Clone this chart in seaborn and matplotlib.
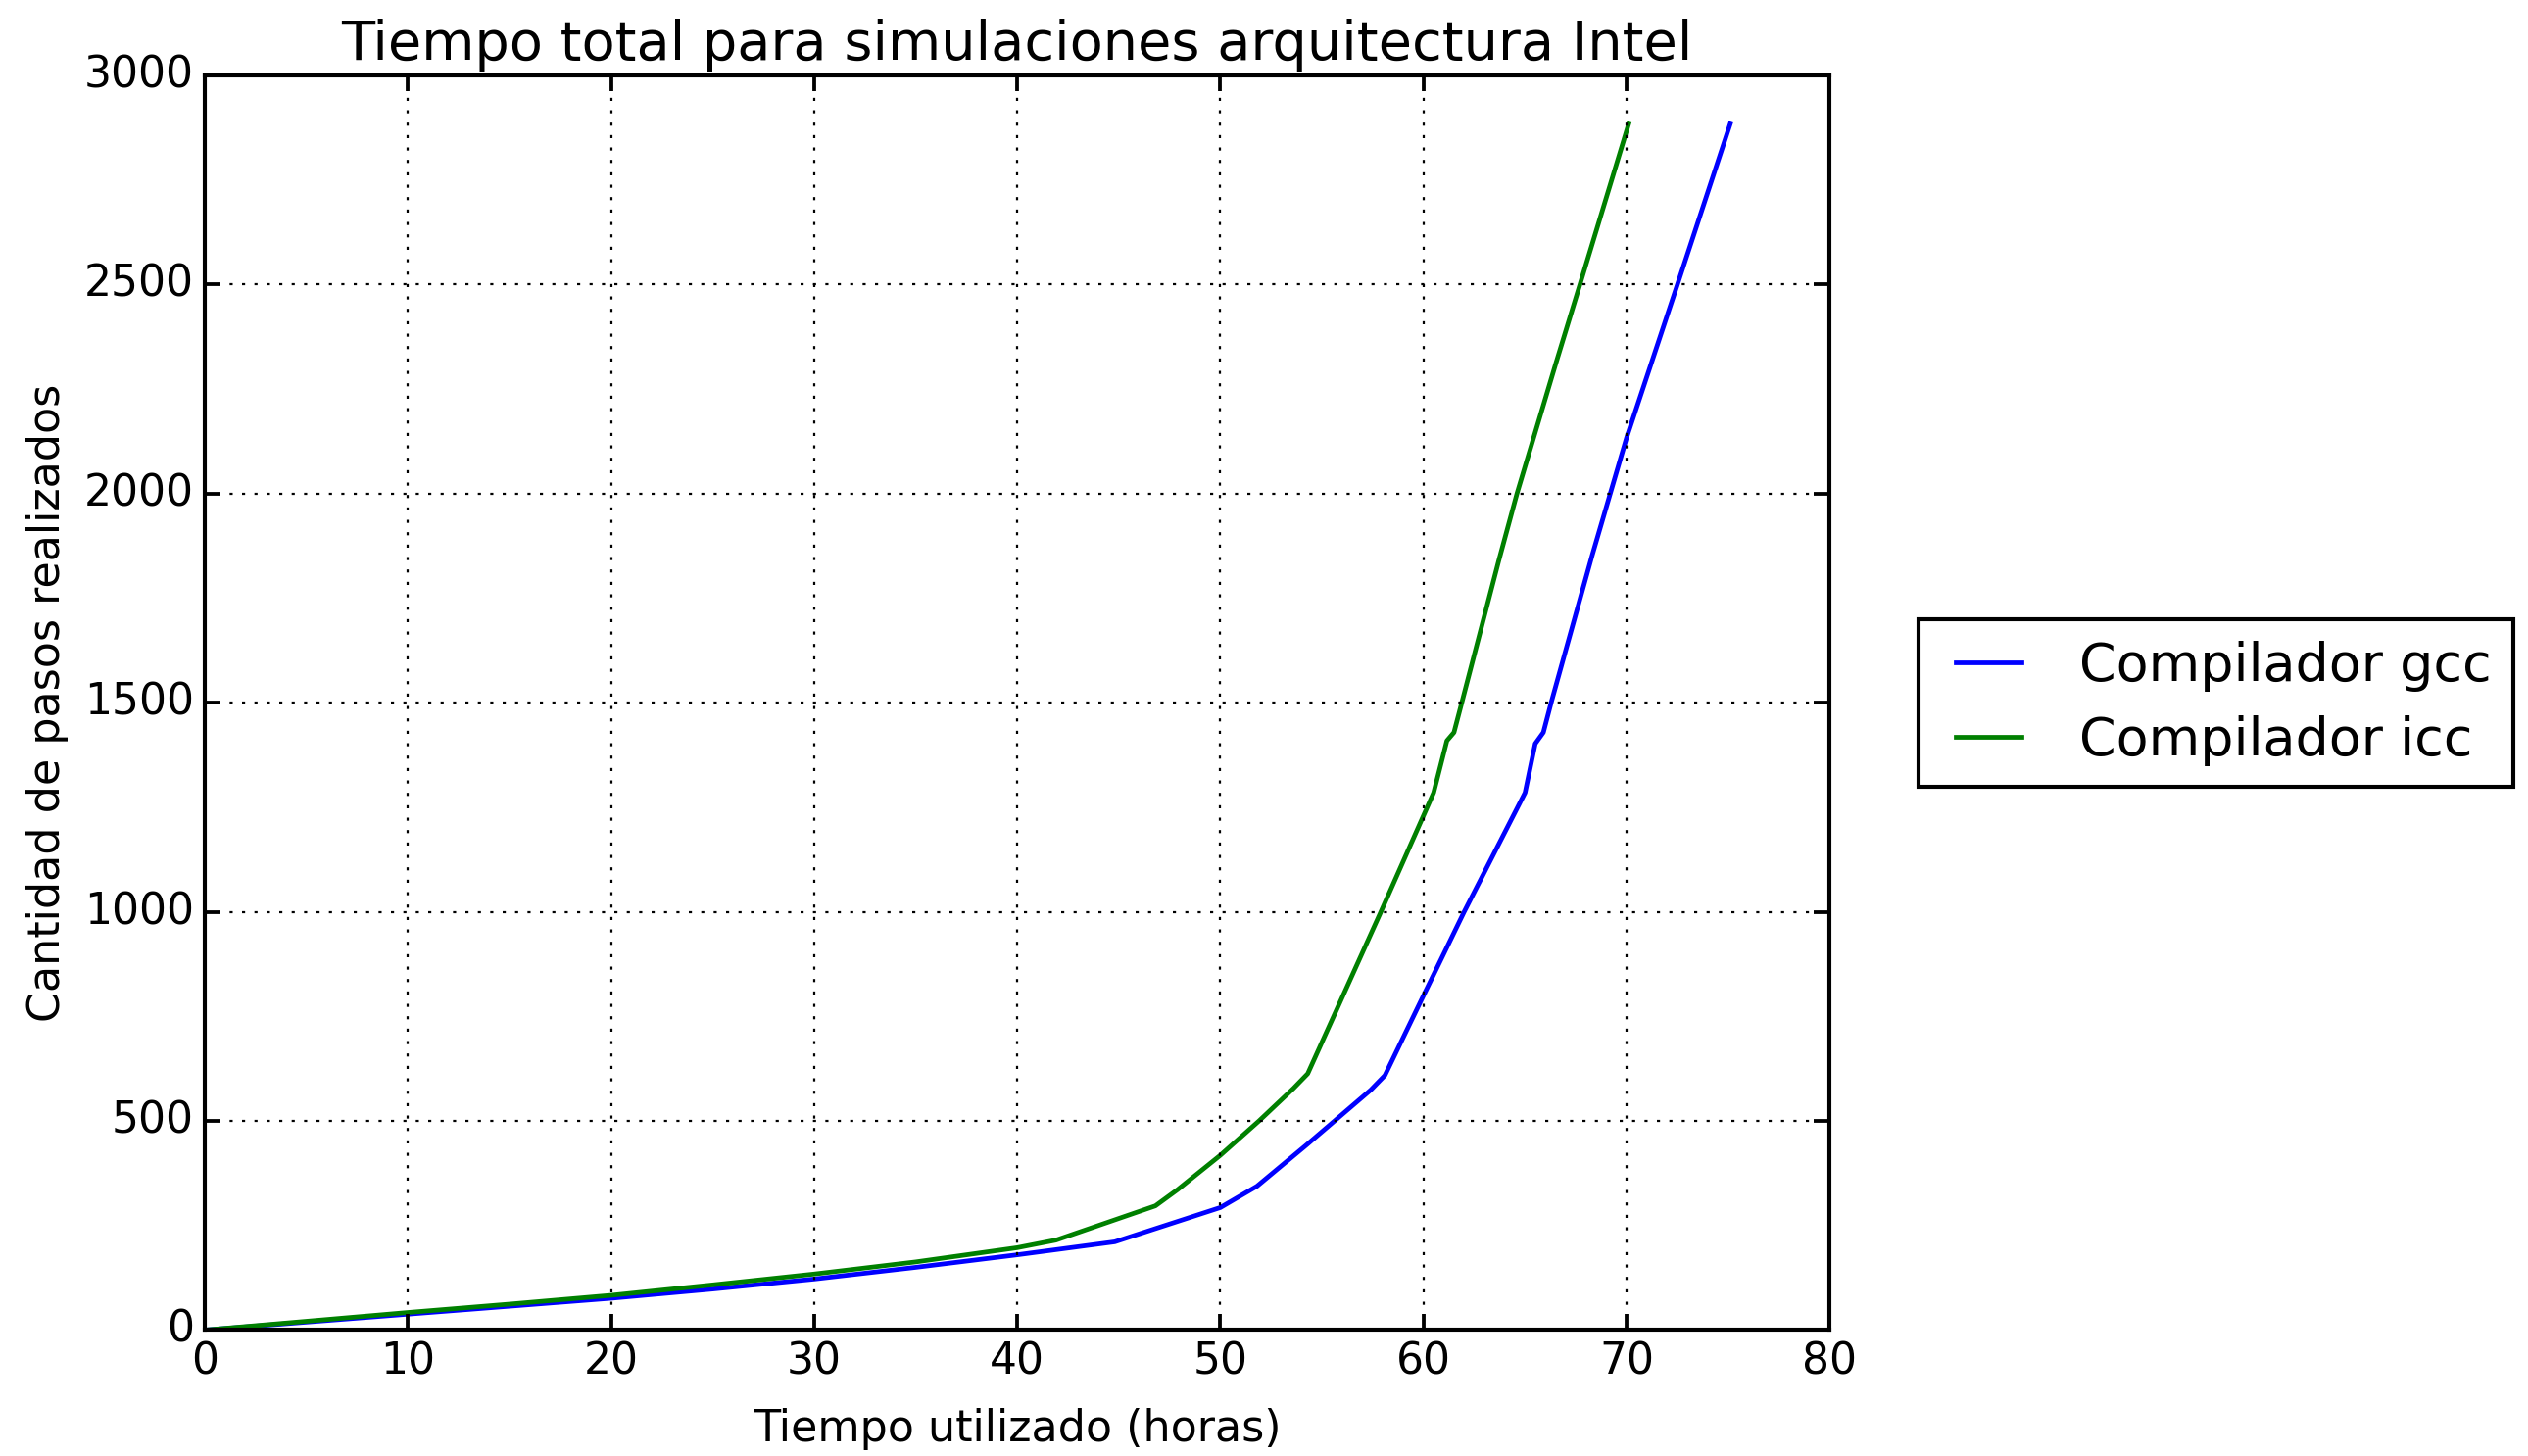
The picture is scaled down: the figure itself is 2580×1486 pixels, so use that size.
import matplotlib
matplotlib.use("Agg")
import matplotlib.pyplot as plt
import seaborn as sns
import pandas as pd

# Data
gcc_horas = [0, 5, 10, 15, 20, 25, 30, 35, 40, 44.8, 50, 51.8, 54.2, 57.4, 58.1,
             60, 62, 65, 65.5, 65.9, 66.3, 68.3, 70, 72.5, 75.1]
gcc_pasos = [0, 19, 38, 57, 76, 98, 122, 150, 180, 211, 293, 344, 441, 574, 609,
             800, 1000, 1285, 1402, 1429, 1503, 1852, 2134, 2500, 2884]

icc_horas = [0, 5, 10, 15, 20, 25, 30, 35, 40, 41.9, 46.8, 47.9, 50, 51.9, 53.6,
             54.3, 57.9, 60.5, 61.15, 61.5, 61.9, 63.7, 64.6, 66.5, 67.7, 70.1]
icc_pasos = [0, 21, 42, 62, 83, 108, 134, 163, 197, 215, 297, 336, 418, 500, 578,
             613, 1000, 1285, 1409, 1429, 1503, 1839, 2000, 2309, 2500, 2884]

series_names = ["Compilador gcc", "Compilador icc"]
series_colors = ["#0000ff", "#008000"]

x_ticks = [0, 10, 20, 30, 40, 50, 60, 70, 80]
y_ticks = [0, 500, 1000, 1500, 2000, 2500, 3000]

df = pd.concat([
    pd.DataFrame({"horas": gcc_horas, "pasos": gcc_pasos, "serie": series_names[0]}),
    pd.DataFrame({"horas": icc_horas, "pasos": icc_pasos, "serie": series_names[1]}),
], ignore_index=True)

plt.style.use("classic")
plt.rcParams["font.family"] = ["DejaVu Sans"]
plt.rcParams["figure.facecolor"] = "white"
plt.rcParams["savefig.facecolor"] = "white"

DPI = 228
fig = plt.figure(figsize=(2580 / DPI, 1486 / DPI), dpi=DPI)
ax = fig.add_axes([0.081, 0.0865, 0.6428, 0.8617])

sns.lineplot(data=df, x="horas", y="pasos", hue="serie", palette=series_colors,
             hue_order=series_names, estimator=None, sort=False, linewidth=1.5,
             ax=ax, legend=True)

ax.set_xlim(0, 80)
ax.set_ylim(0, 3000)
ax.set_xticks(x_ticks)
ax.set_yticks(y_ticks)
ax.tick_params(labelsize=13.9, direction="in", top=True, right=True, pad=3.5,
               width=1.2, length=5)
for sp in ax.spines.values():
    sp.set_linewidth(1.3)
ax.grid(True, color="k", linestyle=":", linewidth=0.7)
ax.set_title("Tiempo total para simulaciones arquitectura Intel", fontsize=17.6, pad=5)
ax.set_xlabel("Tiempo utilizado (horas)", fontsize=14, labelpad=8)
ax.set_ylabel("Cantidad de pasos realizados", fontsize=14)

handles, labels = ax.get_legend_handles_labels()
leg = ax.legend(handles, labels, loc="center left", bbox_to_anchor=(0.759, 0.517),
                bbox_transform=fig.transFigure, fontsize=17, fancybox=False, shadow=False,
                frameon=True, edgecolor="black", handlelength=1.85, handletextpad=0.8,
                borderpad=0.4, labelspacing=0.45, borderaxespad=0.0)
leg.get_frame().set_linewidth(1.3)
for h in leg.get_lines():
    h.set_linewidth(1.5)

fig.savefig("out.png", dpi=DPI)
